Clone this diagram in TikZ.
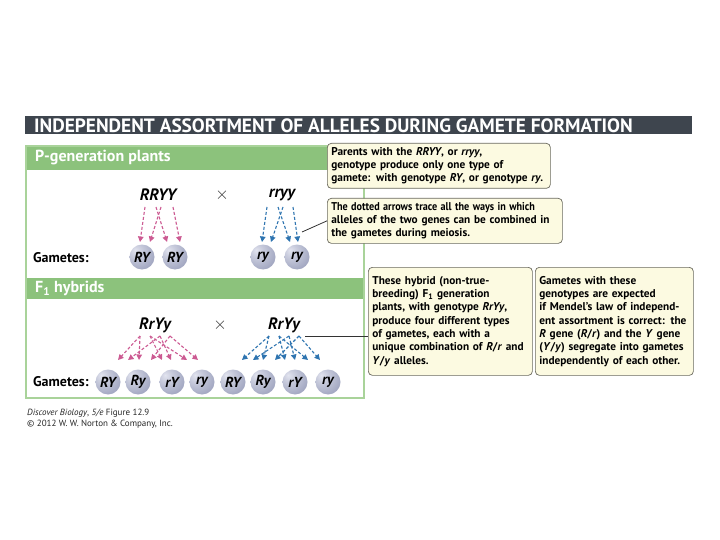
\documentclass[tikz,border=0pt]{standalone}
\usepackage{fontspec}
\usepackage{graphicx}
\setmainfont{PT Sans}
\usetikzlibrary{arrows.meta,calc}
\definecolor{titlebar}{HTML}{3E454E}
\definecolor{hdrgreen}{HTML}{8CC27C}
\definecolor{panelgreen}{HTML}{A9D39A}
\definecolor{calloutfill}{HTML}{FCFAE1}
\definecolor{calloutline}{HTML}{6B6A5E}
\definecolor{pinkarrow}{HTML}{CC5A92}
\definecolor{bluearrow}{HTML}{2E74B0}
\definecolor{ballhi}{HTML}{E2E4EF}
\definecolor{ballmid}{HTML}{A3A8C2}
\definecolor{balledge}{HTML}{6A7190}
\pgfdeclareradialshading{gameteball}{\pgfpoint{-14bp}{14bp}}{%
  color(0bp)=(ballhi); color(12bp)=(ballhi!60!ballmid); color(34bp)=(ballmid);
  color(62bp)=(balledge); color(80bp)=(balledge)}
\tikzset{
  callout/.style={draw=calloutline, fill=calloutfill, rounded corners=4pt, line width=0.7pt,
    anchor=north west, inner xsep=4pt, inner ysep=3pt, align=left,
    font=\fontsize{11.3}{13.3}\selectfont\bfseries},
  hdrtext/.style={anchor=west, text=white, font=\fontsize{16}{18}\selectfont\bfseries, inner sep=0pt},
  geno/.style={font=\fontsize{16.5}{18}\selectfont\bfseries\itshape, inner sep=0pt},
  crosssign/.style={font=\fontsize{16}{16}\selectfont, inner sep=0pt, text=black!80},
  gamlabel/.style={anchor=west, font=\fontsize{14}{16}\selectfont\bfseries, inner sep=0pt},
  gamete/.style={circle, minimum size=25pt, inner sep=0pt, shading=gameteball,
    font=\fontsize{14.5}{16}\selectfont\bfseries\itshape},
  parrow/.style={draw=pinkarrow, dash pattern=on 3pt off 2pt, line width=1.1pt,
    -{Triangle[length=5.5pt,width=5.5pt,fill=pinkarrow]}},
  barrow/.style={draw=bluearrow, dash pattern=on 3pt off 2pt, line width=1.1pt,
    -{Triangle[length=5.5pt,width=5.5pt,fill=bluearrow]}},
  leader/.style={draw=black!80, line width=0.8pt},
  foot/.style={anchor=west, inner sep=0pt, font=\fontsize{9}{10}\selectfont, text=black!85}
}
\begin{document}
\begin{tikzpicture}[x=1pt,y=-1pt]
\useasboundingbox (0,0) rectangle (720,540);
\fill[white] (0,0) rectangle (720,540);
% title
\fill[titlebar] (25,116) rectangle (692,134);
\node[anchor=west, text=white, inner sep=0pt, font=\fontsize{19.3}{21}\selectfont\bfseries] (title) at (34,125.5)
  {INDEPENDENT ASSORTMENT OF ALLELES DURING GAMETE FORMATION};
% panel
\fill[hdrgreen] (26,146) rectangle (364,170);
\fill[hdrgreen] (26,278) rectangle (364,299);
\draw[panelgreen, line width=1.5pt] (26,146) rectangle (364,398);
\node[hdrtext] (phdr) at (35,158) {P-generation plants};
\node[hdrtext] (fhdr) at (35,288.5) {F\textsubscript{1} hybrids};
% P generation
\node[geno] (pL) at (158,195) {RRYY};
\node[crosssign] (xP) at (222,195) {$\times$};
\node[geno] (pR) at (282,195) {rryy};
\node[gamlabel] (gamP) at (33,258) {Gametes:};
\node[gamete] (p1) at (142,257) {RY};
\node[gamete] (p2) at (175,257) {RY};
\node[gamete] (p3) at (263,257) {ry};
\node[gamete] (p4) at (297,257) {ry};
\coordinate (pa1) at (145,207); \coordinate (pe1) at (140,242);
\coordinate (pa2) at (161,207); \coordinate (pe2) at (150,242);
\coordinate (pa3) at (156,207); \coordinate (pe3) at (167,242);
\coordinate (pa4) at (173,207); \coordinate (pe4) at (180,242);
\draw[parrow] (pa1) -- (pe1);
\draw[parrow] (pa2) -- (pe2);
\draw[parrow] (pa3) -- (pe3);
\draw[parrow] (pa4) -- (pe4);
\coordinate (pb1) at (267,207); \coordinate (pf1) at (262,242);
\coordinate (pb2) at (283,207); \coordinate (pf2) at (271,242);
\coordinate (pb3) at (278,207); \coordinate (pf3) at (290,242);
\coordinate (pb4) at (293,207); \coordinate (pf4) at (298,242);
\draw[barrow] (pb1) -- (pf1);
\draw[barrow] (pb2) -- (pf2);
\draw[barrow] (pb3) -- (pf3);
\draw[barrow] (pb4) -- (pf4);
% F1
\node[geno] (fL) at (155,325) {RrYy};
\node[crosssign] (xF) at (220,325) {$\times$};
\node[geno] (fR) at (284,325) {RrYy};
\node[gamlabel] (gamF) at (33,382) {Gametes:};
\node[gamete] (g1) at (108,382) {RY};
\node[gamete] (g2) at (138,382) {Ry};
\node[gamete] (g3) at (172,382) {rY};
\node[gamete] (g4) at (202,382) {ry};
\node[gamete] (g5) at (233,382) {RY};
\node[gamete] (g6) at (263,382) {Ry};
\node[gamete] (g7) at (295,382) {rY};
\node[gamete] (g8) at (328,382) {ry};
% left fan
\coordinate (lR) at (140,336); \coordinate (lr) at (150,336);
\coordinate (lY) at (160,336); \coordinate (ly) at (170,336);
\draw[parrow] (lR) -- (118,360);
\draw[parrow] (lY) -- (128,360);
\draw[parrow] (lR) -- (139,360);
\draw[parrow] (ly) -- (151,360);
\draw[parrow] (lr) -- (162,360);
\draw[parrow] (lY) -- (171,360);
\draw[parrow] (lr) -- (187,360);
\draw[parrow] (ly) -- (198,360);
% right fan
\coordinate (rR) at (269,336); \coordinate (rr) at (279,336);
\coordinate (rY) at (289,336); \coordinate (ry) at (299,336);
\draw[barrow] (rR) -- (242,360);
\draw[barrow] (rY) -- (253,360);
\draw[barrow] (rR) -- (263,360);
\draw[barrow] (ry) -- (275,360);
\draw[barrow] (rr) -- (285,360);
\draw[barrow] (rY) -- (295,360);
\draw[barrow] (rr) -- (308,360);
\draw[barrow] (ry) -- (320,360);
% callouts
\node[callout, minimum width=223pt, minimum height=45pt, text width=215pt] (c1) at (327,143)
  {Parents with the \textit{RRYY}, or \textit{rryy},\\genotype produce only one type of\\gamete: with genotype \textit{RY}, or genotype \textit{ry}.};
\node[callout, minimum width=235pt, minimum height=45pt, text width=227pt] (c2) at (327,198)
  {\scalebox{0.9}[1]{The dotted arrows trace all the ways in which}\\alleles of the two genes can be combined in\\the gametes during meiosis.};
\node[callout, minimum width=164pt, minimum height=108pt, text width=156pt] (c3) at (368,267)
  {These hybrid (non-true-\\breeding) F\textsubscript{1} generation\\plants, with genotype \textit{RrYy},\\produce four different types\\of gametes, each with a\\unique combination of \textit{R}/\textit{r} and\\\textit{Y}/\textit{y} alleles.};
\node[callout, minimum width=158pt, minimum height=108pt, text width=150pt] (c4) at (535,267)
  {Gametes with these\\genotypes are expected\\if Mendel's law of independ-\\ent assortment is correct: the\\\textit{R} gene (\textit{R}/\textit{r}) and the \textit{Y} gene\\(\textit{Y}/\textit{y}) segregate into gametes\\independently of each other.};
% leaders
\coordinate (l1) at (302,232);
\draw[leader] (l1) -- (c2.west);
\coordinate (l2) at (305,336);
\draw[leader] (l2) -- (l2 -| c3.west);
% footer
\node[foot] (f1) at (27,413) {\textit{Discover Biology}, \textit{5/e} Figure 12.9};
\node[foot] (f2) at (27,424) {© 2012 W. W. Norton \& Company, Inc.};
\end{tikzpicture}
\end{document}
